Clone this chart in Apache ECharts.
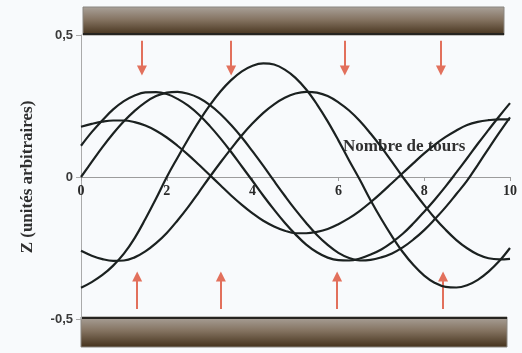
<!DOCTYPE html>
<html>
<head>
<meta charset="utf-8">
<script src="https://cdn.jsdelivr.net/npm/echarts@6/dist/echarts.min.js"></script>
<style>
  html, body { margin: 0; padding: 0; background: #f8fafc; }
  #chart { width: 522px; height: 353px; }
</style>
</head>
<body>
<div id="chart"></div>
<script>
// Positions along the run (number of turns)
const turns = [0, 0.25, 0.5, 0.75, 1, 1.25, 1.5, 1.75, 2, 2.25, 2.5, 2.75, 3, 3.25, 3.5, 3.75, 4, 4.25, 4.5, 4.75, 5,
  5.25, 5.5, 5.75, 6, 6.25, 6.5, 6.75, 7, 7.25, 7.5, 7.75, 8, 8.25, 8.5, 8.75, 9, 9.25, 9.5, 9.75, 10];

// Z trajectories (arbitrary units), one array per trajectory
const zA = [0.177, 0.187, 0.195, 0.199, 0.199, 0.193, 0.181, 0.163, 0.139, 0.110, 0.078, 0.043, 0.007, -0.029, -0.065, -0.098, -0.128, -0.154, -0.174, -0.189, -0.198,
  -0.198, -0.193, -0.183, -0.166, -0.145, -0.119, -0.089, -0.056, -0.021, 0.014, 0.049, 0.083, 0.114, 0.141, 0.164, 0.183, 0.194, 0.2, 0.203, 0.203];
const zB = [0.11, 0.158, 0.2, 0.238, 0.267, 0.287, 0.298, 0.299, 0.292, 0.275, 0.251, 0.219, 0.18, 0.136, 0.088, 0.037, -0.014, -0.066, -0.115, -0.161, -0.202,
  -0.238, -0.265, -0.284, -0.293, -0.294, -0.287, -0.273, -0.255, -0.23, -0.2, -0.163, -0.122, -0.079, -0.033, 0.016, 0.066, 0.117, 0.166, 0.214, 0.26];
const zC = [0.0, 0.053, 0.105, 0.153, 0.196, 0.233, 0.263, 0.285, 0.297, 0.3, 0.293, 0.278, 0.254, 0.222, 0.183, 0.139, 0.09, 0.039, -0.014, -0.066, -0.116,
  -0.162, -0.204, -0.239, -0.267, -0.285, -0.294, -0.292, -0.283, -0.269, -0.248, -0.22, -0.187, -0.148, -0.106, -0.06, -0.013, 0.043, 0.1, 0.156, 0.21];
const zD = [-0.26, -0.277, -0.289, -0.295, -0.294, -0.283, -0.262, -0.233, -0.197, -0.153, -0.105, -0.053, 0.0, 0.051, 0.1, 0.147, 0.189, 0.226, 0.256, 0.279, 0.294,
  0.3, 0.297, 0.285, 0.263, 0.234, 0.197, 0.153, 0.105, 0.053, 0.0, -0.05, -0.099, -0.145, -0.186, -0.222, -0.251, -0.273, -0.286, -0.29, -0.288];
const zE = [-0.39, -0.37, -0.345, -0.312, -0.27, -0.215, -0.148, -0.076, 0.0, 0.068, 0.134, 0.196, 0.252, 0.301, 0.341, 0.372, 0.392, 0.4, 0.396, 0.378, 0.349,
  0.308, 0.256, 0.196, 0.129, 0.058, -0.01, -0.082, -0.148, -0.209, -0.264, -0.31, -0.347, -0.373, -0.387, -0.389, -0.381, -0.362, -0.333, -0.296, -0.25];

// Focusing kicks: arrows pushing away from the upper and lower plates
const kickDownAt = [1.42, 3.5, 6.15, 8.39];
const kickDownFrom = 0.48, kickDownTo = 0.375;
const kickUpAt = [1.31, 3.26, 5.97, 8.44];
const kickUpFrom = -0.465, kickUpTo = -0.35;

// Y tick labels (comma decimal)
const yTickText = { '0.5': '0,5', '0': '0', '-0.5': '-0,5' };

const trajectories = [zA, zB, zC, zD, zE];

const W = 522, H = 353;
const gridBox = { left: 81, right: 12, top: 35, bottom: 34 };
// the turn axis crosses the Z axis at Z = 0, i.e. halfway down the plot
const plotH = H - gridBox.top - gridBox.bottom;
const zeroLift = -Math.round(plotH * (0 - (-0.5)) / (0.5 - (-0.5)));

const chart = echarts.init(document.getElementById('chart'), null, { renderer: 'canvas' });

const curveSeries = trajectories.map((zs, i) => ({
  name: 'traj' + (i + 1),
  type: 'line',
  data: turns.map((t, k) => [t, zs[k]]),
  smooth: 0.4,
  showSymbol: false,
  symbol: 'none',
  lineStyle: { color: '#1b2120', width: 2.2 },
  z: 3,
  silent: true
}));

const arrowColor = '#e2705c';
const arrowSeries = {
  type: 'lines',
  coordinateSystem: 'cartesian2d',
  symbol: ['none', 'triangle'],
  symbolSize: [9, 10],
  lineStyle: { color: arrowColor, width: 2, opacity: 1 },
  data: kickDownAt.map(x => ({ coords: [[x, kickDownFrom], [x, kickDownTo]] }))
    .concat(kickUpAt.map(x => ({ coords: [[x, kickUpFrom], [x, kickUpTo]] }))),
  z: 2,
  silent: true
};

const plate = (x, y, w, h, edgeTop) => ({
  type: 'group',
  children: [
    {
      type: 'rect',
      shape: { x: x, y: y, width: w, height: h },
      style: {
        fill: new echarts.graphic.LinearGradient(0, 0, 0, 1, [
          { offset: 0, color: '#aaa29a' },
          { offset: 0.45, color: '#857462' },
          { offset: 1, color: '#43301a' }
        ]),
        stroke: '#8a8680',
        lineWidth: 1
      }
    },
    {
      type: 'line',
      shape: edgeTop ? { x1: x, y1: y + 1, x2: x + w, y2: y + 1 } : { x1: x, y1: y + h - 1, x2: x + w, y2: y + h - 1 },
      style: { stroke: '#262420', lineWidth: 2 }
    }
  ]
});

chart.setOption({
  backgroundColor: '#f8fafc',
  animation: false,
  grid: Object.assign({ containLabel: false }, gridBox),
  xAxis: {
    type: 'value',
    position: 'bottom',
    offset: zeroLift,
    min: 0, max: 10, interval: 2,
    axisLine: { onZero: false, lineStyle: { color: '#9c9c9c', width: 1 } },
    axisTick: { show: true, length: 4, lineStyle: { color: '#9c9c9c' } },
    axisLabel: {
      margin: 7,
      fontFamily: 'Liberation Serif',
      fontWeight: 'bold',
      fontSize: 14,
      color: '#2a2a2a'
    },
    splitLine: { show: false }
  },
  yAxis: {
    type: 'value',
    min: -0.5, max: 0.5, interval: 0.5,
    name: 'Z (unités arbitraires)',
    nameLocation: 'middle',
    nameGap: 45,
    nameRotate: 90,
    nameTextStyle: {
      fontFamily: 'Liberation Serif',
      fontWeight: 'bold',
      fontSize: 17,
      color: '#2f2f2f'
    },
    axisLine: { show: true, onZero: false, lineStyle: { color: '#aaaaaa', width: 1 } },
    axisTick: { show: true, length: 5, lineStyle: { color: '#aaaaaa' } },
    axisLabel: {
      margin: 8,
      fontFamily: 'Liberation Sans',
      fontWeight: 'bold',
      fontSize: 13,
      color: '#3a3a3a',
      formatter: v => yTickText[String(v)] !== undefined ? yTickText[String(v)] : String(v).replace('.', ',')
    },
    splitLine: { show: false }
  },
  graphic: [
    plate(83, 7, 421, 28, false),
    plate(81, 317, 426, 30, true),
    {
      type: 'text',
      left: 343,
      top: 138,
      style: {
        text: 'Nombre de tours',
        font: 'bold 17px "Liberation Serif"',
        fill: '#303030'
      },
      z: 1
    }
  ],
  series: curveSeries.concat([arrowSeries])
});
</script>
</body>
</html>
